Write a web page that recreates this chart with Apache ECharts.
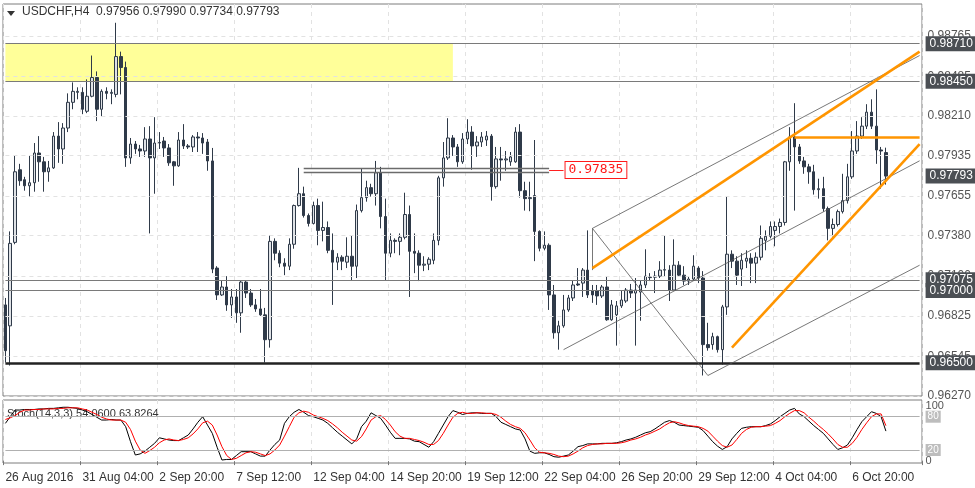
<!DOCTYPE html>
<html>
<head>
<meta charset="utf-8">
<script src="https://cdn.jsdelivr.net/npm/echarts@6/dist/echarts.min.js"></script>
<style>
  html, body { margin: 0; padding: 0; background: #fff; }
  #main { width: 975px; height: 488px; }
</style>
</head>
<body>
<div id="main"></div>
<script>
// USDCHF H4 candles: [open, close, low, high]
var candles = [
  [0.96901,0.96584,0.96502,0.96949],[0.96756,0.97327,0.96481,0.97410],[0.97334,0.97823,0.97321,0.97933],[0.97837,0.97761,0.97726,0.97878],
  [0.97768,0.97726,0.97692,0.97788],[0.97726,0.97747,0.97651,0.97933],[0.97747,0.97953,0.97685,0.98022],[0.97953,0.97892,0.97754,0.98070],
  [0.97892,0.97823,0.97685,0.97926],[0.97823,0.97850,0.97754,0.97898],[0.97850,0.98070,0.97843,0.98098],[0.98070,0.97981,0.97885,0.98167],
  [0.97981,0.98126,0.97878,0.98160],[0.98126,0.98304,0.98098,0.98366],[0.98304,0.98380,0.98256,0.98442],[0.98373,0.98380,0.98325,0.98408],
  [0.98373,0.98256,0.98222,0.98408],[0.98242,0.98346,0.98229,0.98463],[0.98346,0.98476,0.98339,0.98628],[0.98476,0.98256,0.98174,0.98518],
  [0.98256,0.98380,0.98208,0.98394],[0.98380,0.98366,0.98325,0.98408],[0.98366,0.98373,0.98291,0.98394],[0.98359,0.98621,0.98339,0.98855],
  [0.98621,0.98545,0.98359,0.98655],[0.98545,0.97919,0.97857,0.98586],[0.97919,0.98015,0.97878,0.98057],[0.98015,0.97981,0.97947,0.98036],
  [0.97981,0.97967,0.97926,0.98009],[0.97967,0.98050,0.97926,0.98132],[0.98050,0.97919,0.97396,0.98139],[0.97919,0.98022,0.97671,0.98201],
  [0.98022,0.98026,0.97981,0.98098],[0.98036,0.97988,0.97926,0.98064],[0.97988,0.97885,0.97864,0.98015],[0.97892,0.97864,0.97726,0.97898],
  [0.97864,0.98043,0.97857,0.98098],[0.98043,0.98002,0.97981,0.98153],[0.98002,0.97995,0.97981,0.98015],[0.97995,0.98064,0.97960,0.98077],
  [0.98064,0.98057,0.97960,0.98098],[0.98057,0.98022,0.97947,0.98091],[0.98029,0.97898,0.97830,0.98050],[0.97898,0.97149,0.97121,0.97988],
  [0.97156,0.96970,0.96935,0.97169],[0.96970,0.97025,0.96963,0.97073],[0.97025,0.96901,0.96860,0.97100],[0.96901,0.96956,0.96811,0.97011],
  [0.96956,0.96846,0.96777,0.97011],[0.96846,0.97059,0.96708,0.97073],[0.97059,0.96983,0.96949,0.97073],[0.96983,0.96901,0.96887,0.97011],
  [0.96901,0.96873,0.96853,0.96942],[0.96873,0.96832,0.96825,0.97011],[0.96832,0.96660,0.96502,0.96880],[0.96660,0.97341,0.96605,0.97382],
  [0.97341,0.97259,0.97210,0.97362],[0.97259,0.97190,0.97162,0.97279],[0.97190,0.97169,0.97107,0.97224],[0.97169,0.97321,0.97142,0.97362],
  [0.97321,0.97589,0.97290,0.97596],[0.97589,0.97671,0.97582,0.97850],[0.97671,0.97520,0.97506,0.97720],[0.97520,0.97465,0.97444,0.97534],
  [0.97465,0.97589,0.97458,0.97616],[0.97589,0.97417,0.97314,0.97637],[0.97417,0.97437,0.97341,0.97616],[0.97437,0.97279,0.97259,0.97479],
  [0.97279,0.97197,0.96901,0.97396],[0.97197,0.97231,0.97142,0.97259],[0.97231,0.97204,0.97142,0.97245],[0.97197,0.97238,0.97156,0.97369],
  [0.97238,0.97169,0.97073,0.97382],[0.97169,0.97554,0.97087,0.97596],[0.97554,0.97644,0.97541,0.97843],[0.97644,0.97713,0.97616,0.97761],
  [0.97713,0.97671,0.97651,0.97740],[0.97671,0.97816,0.97589,0.97898],[0.97816,0.97513,0.97431,0.97857],[0.97513,0.97259,0.97073,0.97637],
  [0.97259,0.97348,0.97231,0.97396],[0.97348,0.97341,0.97259,0.97362],[0.97341,0.97369,0.97245,0.97396],[0.97369,0.97527,0.97355,0.97678],
  [0.97527,0.97272,0.96956,0.97589],[0.97272,0.97259,0.97121,0.97396],[0.97259,0.97176,0.97066,0.97279],[0.97176,0.97183,0.97135,0.97238],
  [0.97183,0.97217,0.97142,0.97231],[0.97210,0.97348,0.97183,0.97396],[0.97348,0.97781,0.97314,0.97795],[0.97781,0.97919,0.97720,0.98029],
  [0.97919,0.98057,0.97905,0.98194],[0.98057,0.97995,0.97933,0.98077],[0.97995,0.97892,0.97857,0.98015],[0.97892,0.98050,0.97878,0.98091],
  [0.98050,0.98098,0.98015,0.98187],[0.98098,0.98002,0.97837,0.98139],[0.98002,0.98029,0.97926,0.98070],[0.98029,0.98064,0.97995,0.98098],
  [0.98043,0.98070,0.98002,0.98105],[0.98070,0.97720,0.97623,0.98084],[0.97720,0.97912,0.97706,0.97995],[0.97912,0.97905,0.97761,0.97995],
  [0.97905,0.97912,0.97830,0.97967],[0.97892,0.97926,0.97864,0.97960],[0.97892,0.98098,0.97885,0.98132],[0.98098,0.97692,0.97644,0.98153],
  [0.97692,0.97637,0.97554,0.97754],[0.97637,0.97644,0.97550,0.97754],[0.97658,0.97410,0.97204,0.98043],[0.97410,0.97293,0.97272,0.97417],
  [0.97293,0.97314,0.97279,0.97410],[0.97314,0.96970,0.96866,0.97327],[0.96970,0.96708,0.96667,0.97039],[0.96708,0.96756,0.96591,0.96791],
  [0.96756,0.96866,0.96743,0.96970],[0.96866,0.96949,0.96853,0.96970],[0.96949,0.97039,0.96928,0.97073],[0.97046,0.97039,0.97032,0.97156],
  [0.97052,0.97142,0.96956,0.97156],[0.97142,0.96970,0.96949,0.97417],[0.96997,0.96970,0.96915,0.97039],[0.96997,0.96963,0.96901,0.97039],
  [0.96963,0.97025,0.96949,0.97039],[0.97025,0.96798,0.96791,0.97100],[0.96798,0.96901,0.96791,0.96935],[0.96832,0.96894,0.96619,0.96928],
  [0.96894,0.96935,0.96880,0.97004],[0.96928,0.97004,0.96915,0.97018],[0.97004,0.96983,0.96949,0.97046],[0.96983,0.97004,0.96619,0.97087],
  [0.96990,0.97039,0.96791,0.97073],[0.97039,0.97100,0.97018,0.97286],[0.97093,0.97090,0.97066,0.97121],[0.97093,0.97100,0.96983,0.97135],
  [0.97100,0.97142,0.97087,0.97204],[0.97142,0.97145,0.97100,0.97382],[0.97142,0.97004,0.96928,0.97176],[0.97004,0.97176,0.96997,0.97355],
  [0.97176,0.97107,0.97100,0.97204],[0.97107,0.97066,0.97039,0.97169],[0.97066,0.97080,0.97039,0.97100],[0.97080,0.97169,0.97073,0.97245],
  [0.97156,0.97087,0.97052,0.97169],[0.97087,0.96626,0.96412,0.97135],[0.96626,0.96605,0.96584,0.96777],[0.96626,0.96681,0.96591,0.96708],
  [0.96681,0.96591,0.96571,0.96688],[0.96591,0.96887,0.96488,0.96901],[0.96887,0.97252,0.96832,0.97651],[0.97252,0.97204,0.97156,0.97279],
  [0.97204,0.97107,0.97039,0.97238],[0.97149,0.97210,0.97032,0.97259],[0.97204,0.97224,0.97156,0.97279],[0.97224,0.97190,0.97052,0.97259],
  [0.97190,0.97231,0.97052,0.97265],[0.97231,0.97362,0.97210,0.97451],[0.97348,0.97376,0.97279,0.97417],[0.97376,0.97444,0.97362,0.97479],
  [0.97417,0.97444,0.97307,0.97479],[0.97444,0.97472,0.97396,0.97499],[0.97472,0.97892,0.97451,0.97898],[0.97892,0.98064,0.97830,0.98132],
  [0.98064,0.97995,0.97554,0.98298],[0.97995,0.97898,0.97878,0.98015],[0.97898,0.97857,0.97809,0.97926],[0.97857,0.97823,0.97740,0.97878],
  [0.97823,0.97699,0.97665,0.97871],[0.97699,0.97706,0.97637,0.97775],[0.97706,0.97568,0.97547,0.97788],[0.97568,0.97431,0.97348,0.97582],
  [0.97431,0.97458,0.97376,0.97499],[0.97458,0.97547,0.97444,0.97561],[0.97547,0.97623,0.97534,0.97809],[0.97623,0.97788,0.97603,0.97878],
  [0.97788,0.97967,0.97774,0.98105],[0.97967,0.98070,0.97947,0.98174],[0.98070,0.98139,0.98050,0.98201],[0.98139,0.98236,0.98119,0.98291],
  [0.98236,0.98139,0.98119,0.98325],[0.98139,0.97974,0.97878,0.98394],[0.97974,0.97967,0.97706,0.97995],[0.97956,0.97793,0.97734,0.97990]
];

// Stoch(14,3,3) main (%K) and signal (%D)
var stochK = [
  68,80,92, 92,93,93,93,94,94,95,95, 96,97,97,96,95, 92,89,84,79,74, 74,75,74,74, 62,35,11, 13,18,25,
  32,42,40, 38,37,37,42, 47,58,70,80, 65,50,25,2, 3,3,10,17, 17,17,13,9, 9,20,30,38, 68,80,88,93,
  88,82,80,77, 74,68,60,52, 45,38,31,40, 62,72,87,82, 77,65,52,41, 41,41,40,36, 35,30,25,35,
  50,65,80,91, 88,84,86,87, 87,86,86,86, 80,70,66,62, 58,56,40,18, 14,15,15,12, 8,7,9,11,
  18,26,28,31, 31,31,32,32, 32,33,35,38, 40,43,47,51, 53,58,64,70, 73,70,65,64, 63,62,61,55,
  45,35,27,21, 26,40,50,59, 61,62,62,62, 64,67,73,80, 86,92,95,85, 80,72,64,57, 50,40,30,21,
  24,29,42,57, 71,80,89,86, 80,54.06
];
var stochD = [
  75,78,82, 88,92,92,93,93,94,94,94, 95,95,96,96,96, 94,92,88,84,79, 76,74,74,74, 70,57,36, 20,14,19,
  25,33,38, 40,38,37,39, 42,49,58,69, 72,65,47,26, 10,3,5,10, 15,17,16,13, 10,13,20,29, 45,62,79,87,
  90,88,83,80, 77,73,67,60, 52,45,38,36, 44,58,74,80, 82,75,65,53, 45,41,41,39, 37,34,30,30,
  37,50,65,79, 86,88,86,86, 87,87,86,86, 84,79,72,66, 62,59,51,38, 24,16,15,14, 12,9,8,9,
  13,18,24,28, 30,31,31,32, 32,32,33,35, 38,40,43,47, 50,54,58,64, 69,71,69,66, 64,63,62,59,
  54,45,36,28, 25,29,39,50, 57,61,62,62, 63,64,68,73, 80,86,91,91, 87,79,72,64, 57,49,40,30,
  25,25,32,43, 57,69,80,85, 85,63.83
];

var dateLabels = ['26 Aug 2016', '31 Aug 04:00', '2 Sep 20:00', '7 Sep 12:00', '12 Sep 04:00', '14 Sep 20:00',
  '19 Sep 12:00', '22 Sep 04:00', '26 Sep 20:00', '29 Sep 12:00', '4 Oct 04:00', '6 Oct 20:00'];
var priceTicks = [0.98765, 0.98485, 0.98210, 0.97935, 0.97655, 0.97380, 0.97100, 0.96825, 0.96545, 0.96270];
var levels = [0.98710, 0.98450, 0.97075, 0.97000];
var supportLevel = 0.96500;
var lastPrice = 0.97793;
var resistBox = [0, 0.98710, 93, 0.98450];
var pivotLevel = [0.97850, 0.97823];   // double line drawn at 0.97835
var pivotRange = [62, 113];
var pivotLabel = 0.97835;

// trendlines: [[bar, price], [bar, price]]
var channelLines = [
  [[116, 0.96591], [190, 0.97899]],
  [[122, 0.97431], [190, 0.98628]],
  [[150, 0.96481], [190, 0.97176]],
  [[122, 0.97431], [122, 0.97142]],
  [[122, 0.97431], [146, 0.96412]],
  [[146, 0.96412], [150, 0.96481]]
];
var orangeLines = [
  [[122, 0.97156], [190, 0.98655]],
  [[164, 0.98064], [190, 0.98064]],
  [[151, 0.96605], [190, 0.98015]]
];

var N = 191;
var cats = [];
for (var i = 0; i < N; i++) cats.push(String(i));

function showTick(i) { return i % 16 === 0 && i / 16 < dateLabels.length; }

function boxLabel(txt) {
  return {
    show: true, position: 'end', distance: 6, formatter: txt,
    backgroundColor: '#4b4f54', color: '#fff', padding: [2, 4, 1, 4],
    fontSize: 12, fontFamily: 'Liberation Sans'
  };
}

// horizontal line across the whole plot
function hLine(p, lineStyle, label) {
  return [{ coord: [0, p], lineStyle: lineStyle, label: label || { show: false } }, { coord: [N - 1, p] }];
}

var priceLines = [];
priceTicks.forEach(function (p) {
  priceLines.push(hLine(p, { color: '#e2e2e2', type: [4, 4], width: 1 },
    { show: true, position: 'end', distance: 8, formatter: p.toFixed(5), color: '#555', fontSize: 12, fontFamily: 'Liberation Sans' }));
});
var levelLines = [];
levels.forEach(function (p) {
  levelLines.push(hLine(p, { color: '#7a7a7a', type: 'solid', width: 1.2 }, boxLabel(p.toFixed(5))));
});
levelLines.push(hLine(supportLevel, { color: '#222', type: 'solid', width: 2.5 }, boxLabel(supportLevel.toFixed(5))));
levelLines.push(hLine(lastPrice, { color: 'rgba(0,0,0,0)', width: 0 }, boxLabel(lastPrice.toFixed(5))));

var drawLines = [];
pivotLevel.forEach(function (p) {
  drawLines.push([{ coord: [pivotRange[0], p], lineStyle: { color: '#6b6b6b', width: 1.3, type: 'solid' }, label: { show: false } },
    { coord: [pivotRange[1], p] }]);
});
drawLines.push([{ coord: [pivotRange[1], pivotLabel], lineStyle: { color: '#ff2020', width: 1, type: 'solid' },
  label: { show: true, position: 'end', distance: 2, formatter: pivotLabel.toFixed(5), color: '#ff1a1a', backgroundColor: '#fff',
    borderColor: '#ff1a1a', borderWidth: 1, padding: [2, 3, 1, 3], fontSize: 13, fontFamily: 'DejaVu Sans Mono' } },
  { coord: [pivotRange[1] + 3, pivotLabel] }]);
channelLines.forEach(function (l) {
  drawLines.push([{ coord: l[0], lineStyle: { color: '#555', width: 0.8, type: 'solid' }, label: { show: false } }, { coord: l[1] }]);
});
orangeLines.forEach(function (l) {
  drawLines.push([{ coord: l[0], lineStyle: { color: '#ff9500', width: 2.6, type: 'solid' }, label: { show: false } }, { coord: l[1] }]);
});

function stochLabel(txt, boxed) {
  return boxed
    ? { show: true, position: 'end', distance: 6, formatter: txt, backgroundColor: '#bdbdbd', color: '#fff', padding: [1, 2], fontSize: 10 }
    : { show: true, position: 'end', distance: 6, formatter: txt, color: '#555', fontSize: 11 };
}
var stochLines = [
  hLine(80, { color: '#b0b0b0', width: 1.2, type: 'solid' }, stochLabel('80', true)),
  hLine(20, { color: '#b0b0b0', width: 1.2, type: 'solid' }, stochLabel('20', true)),
  hLine(100, { color: 'rgba(0,0,0,0)', width: 0 }, stochLabel('100', false)),
  hLine(0, { color: 'rgba(0,0,0,0)', width: 0 }, stochLabel('0', false))
];

function holder(xi, yi, lines, z) {
  return { type: 'line', xAxisIndex: xi, yAxisIndex: yi, data: [], z: z,
    markLine: { silent: true, symbol: ['none', 'none'], precision: 5, data: lines } };
}

var chart = echarts.init(document.getElementById('main'));
chart.setOption({
  animation: false,
  backgroundColor: '#fff',
  textStyle: { fontFamily: 'Liberation Sans' },
  graphic: [
    { type: 'polygon', shape: { points: [[7, 11], [15, 11], [11, 16]] }, style: { fill: '#333' } },
    { type: 'text', left: 22, top: 6, style: { text: 'USDCHF,H4  0.97956 0.97990 0.97734 0.97793', fill: '#333', font: '12px Liberation Sans' } },
    { type: 'text', left: 7, top: 408, style: { text: 'Stoch(14,3,3) 54.0600 63.8264', fill: '#333', font: '11px Liberation Sans' } }
  ],
  grid: [
    { left: 3, right: 53, top: 4, height: 392, show: true, borderColor: '#7d7d7d', borderWidth: 1 },
    { left: 3, right: 53, top: 400, height: 63, show: true, borderColor: '#7d7d7d', borderWidth: 1 }
  ],
  xAxis: [
    { type: 'category', data: cats, gridIndex: 0, boundaryGap: true, axisLine: { show: false },
      axisTick: { show: false }, axisLabel: { show: false },
      splitLine: { show: true, interval: function (i) { return showTick(i); }, lineStyle: { color: '#e2e2e2', type: [4, 4] } } },
    { type: 'category', data: cats, gridIndex: 1, boundaryGap: true, axisLine: { show: false },
      axisTick: { show: true, interval: function (i) { return showTick(i); }, length: 4, lineStyle: { color: '#777' } },
      axisLabel: { show: true, interval: function (i) { return showTick(i); }, align: 'left', margin: 9, color: '#333', fontSize: 12,
        formatter: function (v, i) { return dateLabels[i / 16]; } },
      splitLine: { show: true, interval: function (i) { return showTick(i); }, lineStyle: { color: '#e2e2e2', type: [4, 4] } } }
  ],
  yAxis: [
    { type: 'value', gridIndex: 0, min: 0.96270, max: 0.98985, position: 'right', axisLabel: { show: false },
      splitLine: { show: false }, axisLine: { show: false }, axisTick: { show: false } },
    { type: 'value', gridIndex: 1, min: -3.4, max: 110.1, position: 'right', axisLabel: { show: false },
      splitLine: { show: false }, axisLine: { show: false }, axisTick: { show: false } }
  ],
  series: [
    holder(0, 0, priceLines, 1),
    {
      type: 'candlestick', xAxisIndex: 0, yAxisIndex: 0, data: candles, barWidth: 3, z: 3,
      itemStyle: { color: '#dfe2e6', color0: '#2f3a49', borderColor: '#2f3a49', borderColor0: '#2f3a49', borderWidth: 1 },
      markArea: { silent: true, itemStyle: { color: '#ffff99', opacity: 1 },
        data: [[{ coord: [resistBox[0], resistBox[1]] }, { coord: [resistBox[2], resistBox[3]] }]] }
    },
    holder(0, 0, levelLines, 4),
    holder(0, 0, drawLines, 5),
    { type: 'line', xAxisIndex: 1, yAxisIndex: 1, data: stochK, showSymbol: false, lineStyle: { color: '#000', width: 1 } },
    { type: 'line', xAxisIndex: 1, yAxisIndex: 1, data: stochD, showSymbol: false, lineStyle: { color: '#ff0000', width: 1 } },
    holder(1, 1, stochLines, 1)
  ]
});
</script>
</body>
</html>
